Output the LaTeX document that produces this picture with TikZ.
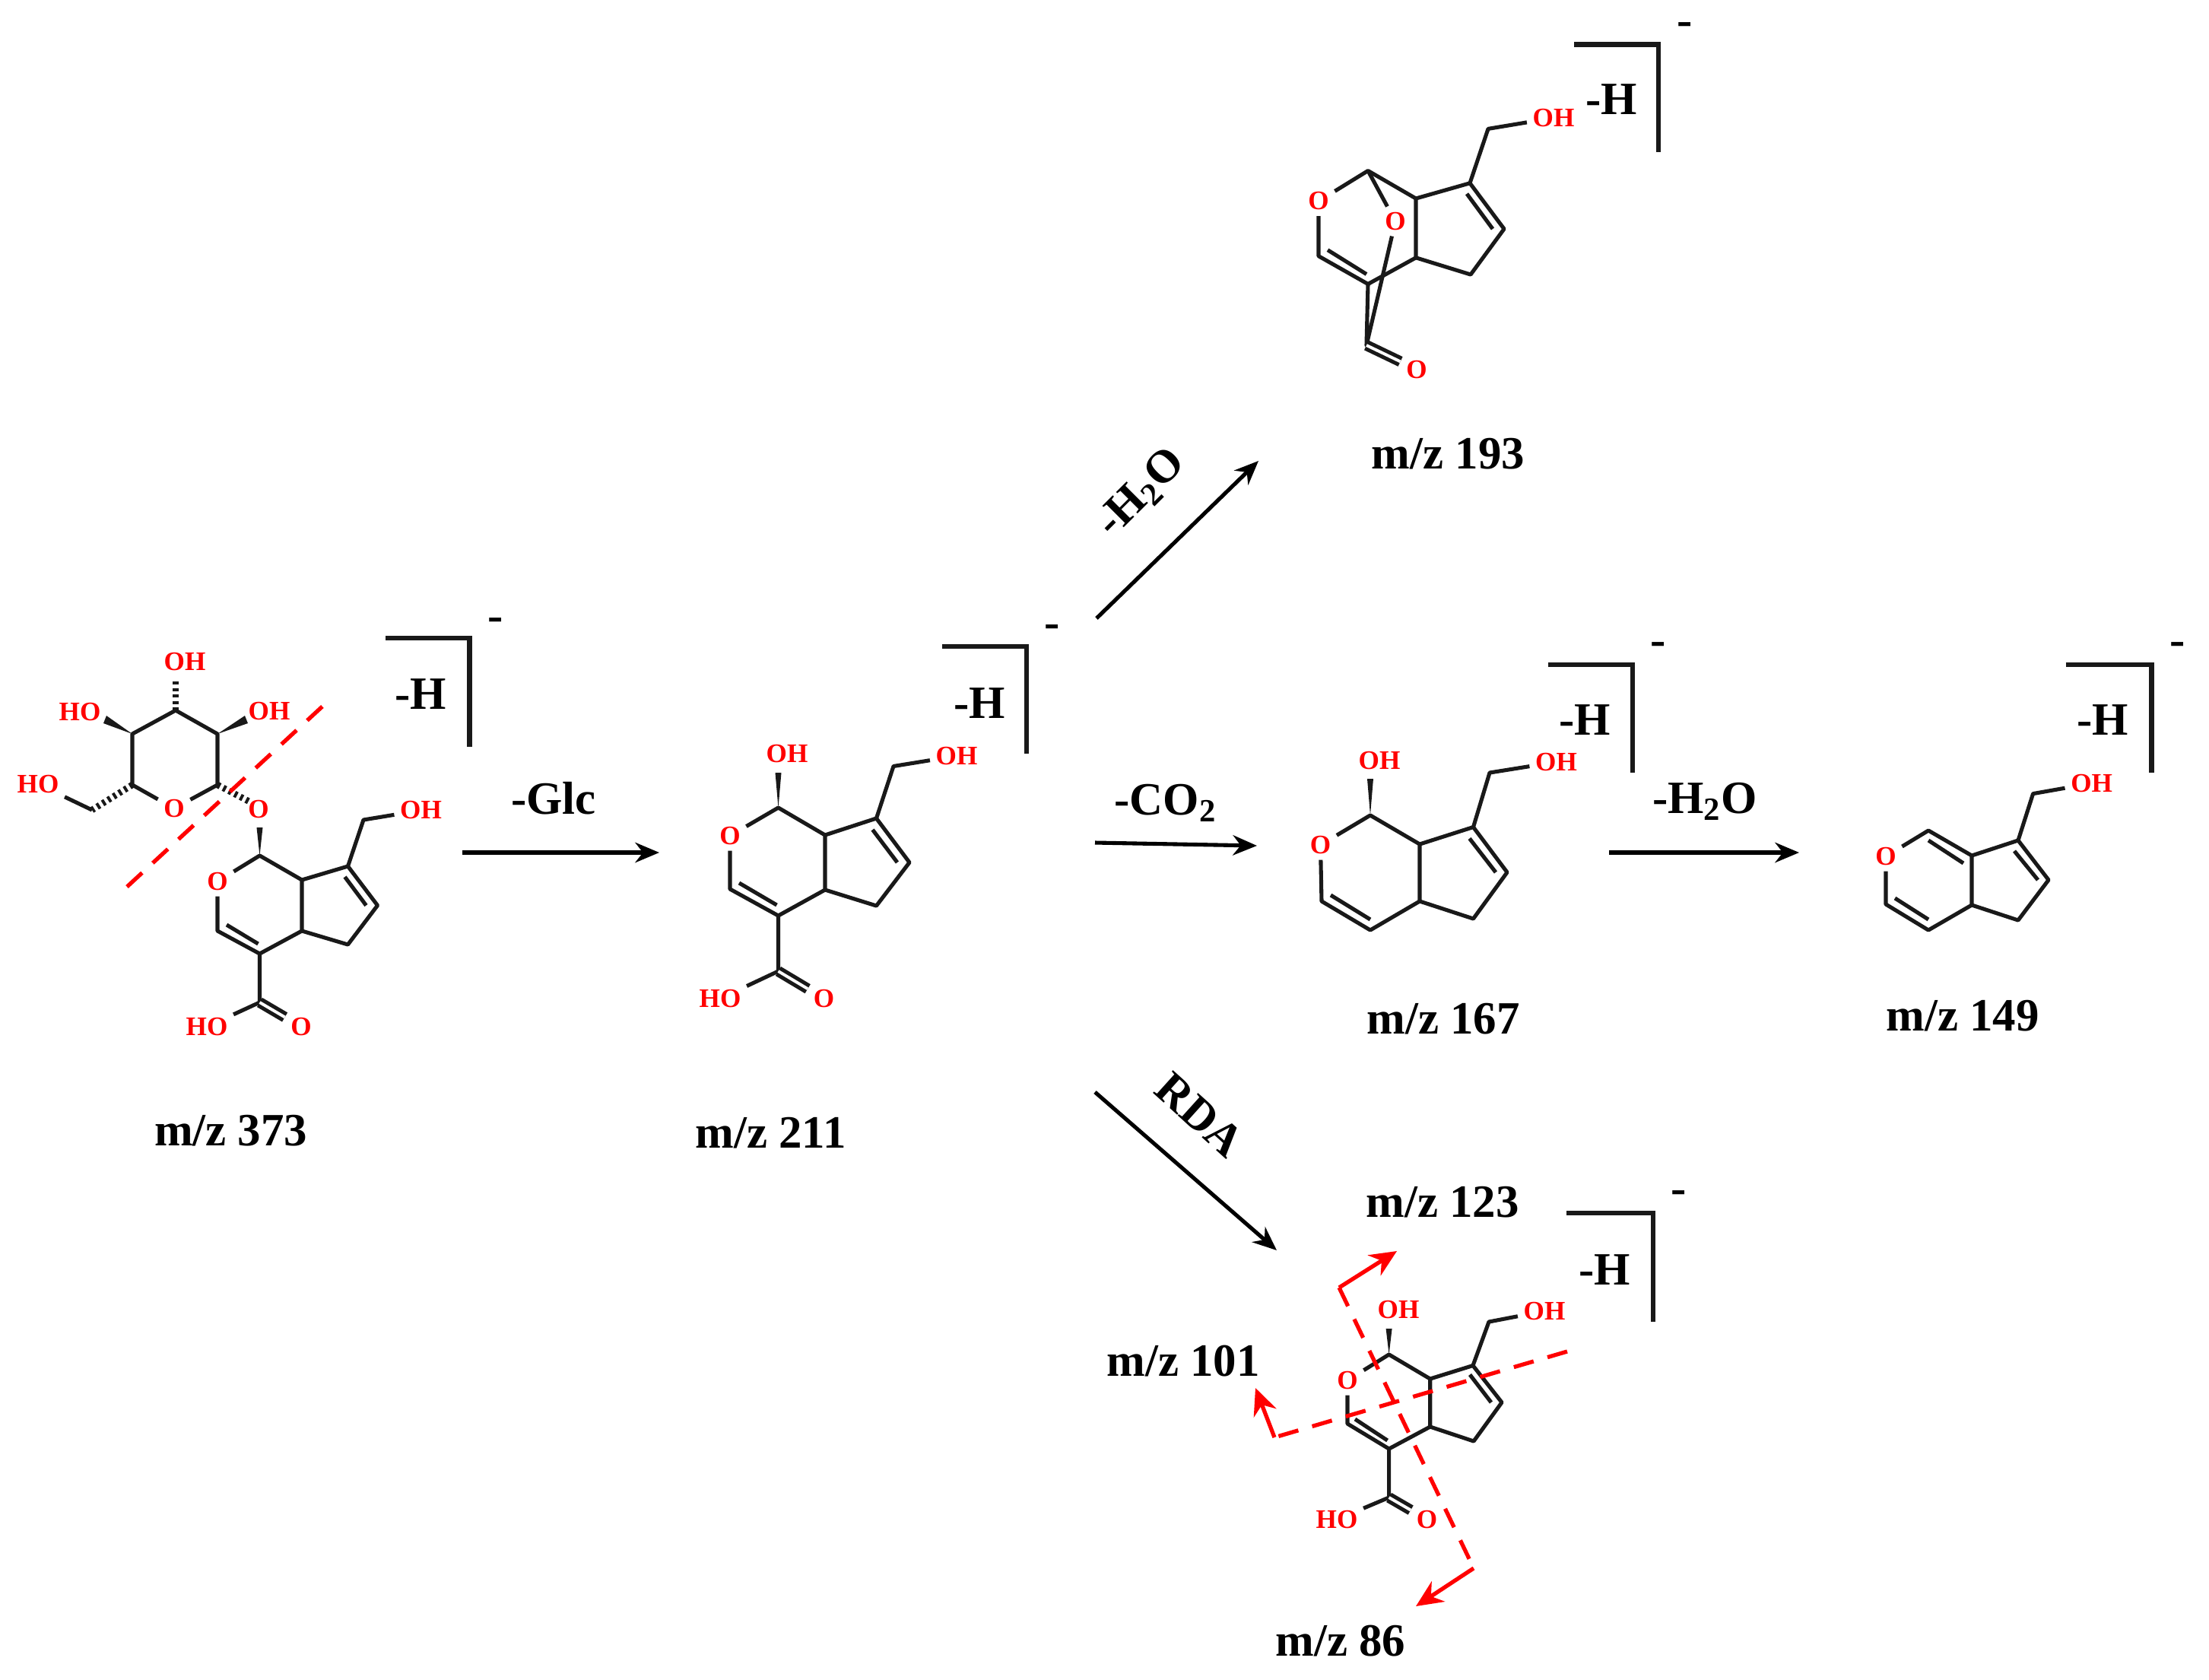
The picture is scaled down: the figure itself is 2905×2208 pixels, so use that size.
\documentclass[tikz,border=0pt]{standalone}
\usepackage{fontspec}
\usepackage{tikz}
\usetikzlibrary{arrows.meta,calc}
\setmainfont{Liberation Serif}

\begin{document}
\begin{tikzpicture}[
    x=0.01cm, y=-0.01cm,
    bond/.style={line width=1.45pt, line join=round, black!90},
    dbl/.style={bond, double, double distance=1.1pt},
    hashb/.style={line width=2.4pt, dash pattern=on 1.1pt off 1.3pt, black!90},
    atom/.style={text=red, inner sep=2pt, font=\bfseries\fontsize{10}{12}\selectfont},
    mass/.style={inner sep=0pt, font=\bfseries\fontsize{17.3}{20}\selectfont},
    brk/.style={line width=1.8pt, line join=miter, black!90},
    arrow/.style={-{Stealth[length=9pt, width=7.5pt]}, line width=1.45pt},
    cut/.style={red, line width=1.5pt, dash pattern=on 7.7pt off 5.4pt},
    cutarrow/.style={red, -{Stealth[length=10pt, width=9pt]}, line width=1.5pt}
]
\useasboundingbox (0,0) rectangle (2905,2208);

% m/z 373
\coordinate (sc1) at (231,934);
\coordinate (sc2) at (286,965);
\coordinate (sc3) at (286,1032);
\coordinate (sc4) at (174,1032);
\coordinate (sc5) at (174,965);
\coordinate (sc6) at (121,1065);
\node[atom] (so1) at (229,1063) {O};
\node[atom] (so2) at (243,870) {OH};
\coordinate (sw2) at (231,894);
\node[atom] (so3) at (105,936) {HO};
\coordinate (sw3) at (138,946);
\node[atom] (so4) at (354,935) {OH};
\coordinate (sw4) at (324,946);
\node[atom] (so5) at (50,1031) {HO};
\node[atom] (so6) at (340,1064) {O};
\coordinate (sw6) at (328,1054);
\coordinate (ac1) at (341.5,1125);
\coordinate (aw1) at (341.5,1088);
\node[atom] (ao1) at (286,1159) {O};
\coordinate (ac3) at (286,1224);
\coordinate (ac4) at (341.5,1254);
\coordinate (ac4a) at (397,1224);
\coordinate (ac7a) at (397,1157);
\coordinate (ac7) at (457.5,1139);
\coordinate (ac6) at (496.5,1190.5);
\coordinate (ac5) at (457.5,1242);
\coordinate (ac8) at (478,1078);
\node[atom] (ao8) at (553.5,1065.5) {OH};
\coordinate (ac9) at (341.5,1318);
\node[atom] (aoa) at (272,1350) {HO};
\node[atom] (aob) at (396,1350) {O};
\draw[bond] (so1) -- (sc3) -- (sc2) -- (sc1) -- (sc5) -- (sc4) -- (so1);
\draw[bond] (so5) -- (sc6);
\draw[hashb] (sc4) -- (sc6);
\draw[hashb] (sc1) -- (sw2);
\draw[hashb] (sc3) -- (sw6);
\fill[black!90] (sc5) -- ($(sw3)+(2,-5)$) -- ($(sw3)+(-2,5)$) -- cycle;
\fill[black!90] (sc2) -- ($(sw4)+(2,5)$) -- ($(sw4)+(-2,-5)$) -- cycle;
\fill[black!90] (ac1) -- ($(aw1)+(4,0)$) -- ($(aw1)+(-4,0)$) -- cycle;
\draw[bond] (ao1) -- (ac3) -- (ac4) -- (ac4a) -- (ac7a) -- (ac1) -- (ao1);
\draw[bond] (ac7a) -- (ac7) -- (ac6) -- (ac5) -- (ac4a);
\draw[bond] ($(ac3)+(12,-8)$) -- ($(ac4)+(-2,-13)$);
\draw[bond] ($(ac7)+(-4,14)$) -- ($(ac6)+(-15,0)$);
\draw[bond] (ac7) -- (ac8) -- (ao8);
\draw[bond] (ac4) -- (ac9) -- (aoa);
\draw[dbl] (ac9) -- (aob);
\draw[cut] (167,1166) coordinate (acutA) -- (426,927) coordinate (acutB);
\node[mass] (am) at (303.6,1487) {m/z 373};
\node[mass] (ah) at (553.5,913) {-H};
\node[mass] (ae) at (652,821) {-};
\coordinate (ab1) at (507,839);
\coordinate (ab2) at (617.5,982);
\draw[brk] (ab1) -| (ab2);

% m/z 211
\coordinate (bc1) at (1023.5,1062);
\coordinate (bw1) at (1023.5,1016);
\node[atom] (bo2) at (1035,991.4) {OH};
\node[atom] (bo1) at (960,1099) {O};
\coordinate (bc3) at (960,1169);
\coordinate (bc4) at (1023.5,1204);
\coordinate (bc4a) at (1085,1170);
\coordinate (bc7a) at (1085,1098);
\coordinate (bc7) at (1152.5,1076);
\coordinate (bc6) at (1196,1134);
\coordinate (bc5) at (1152.5,1191);
\coordinate (bc8) at (1175,1007.5);
\node[atom] (bo8) at (1258,994) {OH};
\coordinate (bc9) at (1023.5,1277);
\node[atom] (boa) at (947,1313) {HO};
\node[atom] (bob) at (1083.6,1313) {O};
\fill[black!90] (bc1) -- ($(bw1)+(4,0)$) -- ($(bw1)+(-4,0)$) -- cycle;
\draw[bond] (bo1) -- (bc3) -- (bc4) -- (bc4a) -- (bc7a) -- (bc1) -- (bo1);
\draw[bond] (bc7a) -- (bc7) -- (bc6) -- (bc5) -- (bc4a);
\draw[bond] ($(bc3)+(12,-8)$) -- ($(bc4)+(-2,-14)$);
\draw[bond] ($(bc7)+(-5,15)$) -- ($(bc6)+(-16,0)$);
\draw[bond] (bc7) -- (bc8) -- (bo8);
\draw[bond] (bc4) -- (bc9) -- (boa);
\draw[dbl] (bc9) -- (bob);
\node[mass] (bm) at (1013.6,1490) {m/z 211};
\node[mass] (bh) at (1288,925) {-H};
\node[mass] (be) at (1384,830) {-};
\coordinate (bb1) at (1239,850);
\coordinate (bb2) at (1350,991);
\draw[brk] (bb1) -| (bb2);

% m/z 193
\coordinate (cc1) at (1799,224.5);
\node[atom] (co1) at (1734,264.5) {O};
\coordinate (cc3) at (1734,336.7);
\coordinate (cc4) at (1799,373.5);
\coordinate (cc4a) at (1862,338.8);
\coordinate (cc7a) at (1862,261);
\coordinate (cc7) at (1933,240.8);
\coordinate (cc6) at (1978,301);
\coordinate (cc5) at (1934,361);
\coordinate (cc8) at (1957,169.4);
\node[atom] (co8) at (2043,155) {OH};
\node[atom] (co2) at (1835,291) {O};
\coordinate (cc9) at (1797,454);
\node[atom] (cob) at (1863,485.7) {O};
\draw[bond] (co1) -- (cc3) -- (cc4) -- (cc4a) -- (cc7a) -- (cc1) -- (co1);
\draw[bond] (cc7a) -- (cc7) -- (cc6) -- (cc5) -- (cc4a);
\draw[bond] ($(cc3)+(12,-8)$) -- ($(cc4)+(-2,-13)$);
\draw[bond] ($(cc7)+(-4,14)$) -- ($(cc6)+(-15,0)$);
\draw[bond] (cc7) -- (cc8) -- (co8);
\draw[bond] (cc1) -- (co2) -- (cc9) -- (cc4);
\draw[dbl] (cc9) -- (cob);
\node[mass] (cm) at (1904.5,596.7) {m/z 193};
\node[mass] (ch) at (2119,131) {-H};
\node[mass] (ce) at (2216,38) {-};
\coordinate (cb1) at (2070,58.4);
\coordinate (cb2) at (2181,200);
\draw[brk] (cb1) -| (cb2);

% m/z 167
\coordinate (dc1) at (1802,1072);
\coordinate (dw1) at (1802,1024);
\node[atom] (do2) at (1814,1000) {OH};
\node[atom] (do1) at (1736.5,1111) {O};
\coordinate (dc3) at (1738,1185);
\coordinate (dc4) at (1802,1223);
\coordinate (dc4a) at (1867,1185);
\coordinate (dc7a) at (1867,1110);
\coordinate (dc7) at (1937.5,1087.5);
\coordinate (dc6) at (1982,1147);
\coordinate (dc5) at (1937.5,1208);
\coordinate (dc8) at (1959,1016);
\node[atom] (do8) at (2046.5,1002) {OH};
\fill[black!90] (dc1) -- ($(dw1)+(4,0)$) -- ($(dw1)+(-4,0)$) -- cycle;
\draw[bond] (do1) -- (dc3) -- (dc4) -- (dc4a) -- (dc7a) -- (dc1) -- (do1);
\draw[bond] (dc7a) -- (dc7) -- (dc6) -- (dc5) -- (dc4a);
\draw[bond] ($(dc3)+(12,-8)$) -- ($(dc4)+(0,-14)$);
\draw[bond] ($(dc7)+(-5,15)$) -- ($(dc6)+(-15,0)$);
\draw[bond] (dc7) -- (dc8) -- (do8);
\node[mass] (dm) at (1898,1340) {m/z 167};
\node[mass] (dh) at (2084,947) {-H};
\node[mass] (de) at (2181,853) {-};
\coordinate (db1) at (2036,874);
\coordinate (db2) at (2147,1016);
\draw[brk] (db1) -| (db2);

% m/z 149
\coordinate (ec1) at (2536,1092);
\node[atom] (eo1) at (2480,1126) {O};
\coordinate (ec3) at (2480,1189);
\coordinate (ec4) at (2536,1223);
\coordinate (ec4a) at (2593,1190);
\coordinate (ec7a) at (2593,1125);
\coordinate (ec7) at (2654,1105);
\coordinate (ec6) at (2694,1157);
\coordinate (ec5) at (2654,1210);
\coordinate (ec8) at (2673.6,1043.6);
\node[atom] (eo8) at (2750.6,1030) {OH};
\draw[bond] (eo1) -- (ec3) -- (ec4) -- (ec4a) -- (ec7a) -- (ec1) -- (eo1);
\draw[bond] (ec7a) -- (ec7) -- (ec6) -- (ec5) -- (ec4a);
\draw[bond] ($(ec3)+(12,-8)$) -- ($(ec4)+(0,-14)$);
\draw[bond] ($(ec1)+(0,13)$) -- ($(ec7a)+(-11,10)$);
\draw[bond] ($(ec7)+(-5,14)$) -- ($(ec6)+(-14,0)$);
\draw[bond] (ec7) -- (ec8) -- (eo8);
\node[mass] (em) at (2581,1336) {m/z 149};
\node[mass] (eh) at (2765,947) {-H};
\node[mass] (ee) at (2864,853) {-};
\coordinate (eb1) at (2716.5,874);
\coordinate (eb2) at (2829.6,1016);
\draw[brk] (eb1) -| (eb2);

% m/z 123, 101, 86
\coordinate (fc1) at (1826.6,1781);
\coordinate (fw1) at (1826.6,1747);
\node[atom] (fo2) at (1839,1722) {OH};
\node[atom] (fo1) at (1772,1815) {O};
\coordinate (fc3) at (1772,1872);
\coordinate (fc4) at (1826.6,1905);
\coordinate (fc4a) at (1880.7,1876);
\coordinate (fc7a) at (1880.7,1813);
\coordinate (fc7) at (1937,1795.5);
\coordinate (fc6) at (1975,1844);
\coordinate (fc5) at (1938,1895);
\coordinate (fc8) at (1958,1738);
\node[atom] (fo8) at (2031,1724) {OH};
\coordinate (fc9) at (1826.6,1969);
\node[atom] (foa) at (1758,1998) {HO};
\node[atom] (fob) at (1876.6,1998) {O};
\fill[black!90] (fc1) -- ($(fw1)+(4,0)$) -- ($(fw1)+(-4,0)$) -- cycle;
\draw[bond] (fo1) -- (fc3) -- (fc4) -- (fc4a) -- (fc7a) -- (fc1) -- (fo1);
\draw[bond] (fc7a) -- (fc7) -- (fc6) -- (fc5) -- (fc4a);
\draw[bond] ($(fc3)+(10,-6)$) -- ($(fc4)+(-2,-11)$);
\draw[bond] ($(fc7)+(-4,12)$) -- ($(fc6)+(-14,0)$);
\draw[bond] (fc7) -- (fc8) -- (fo8);
\draw[bond] (fc4) -- (fc9) -- (foa);
\draw[dbl] (fc9) -- (fob);
\node[mass] (fma) at (1897,1581) {m/z 123};
\node[mass] (fmb) at (1556,1790) {m/z 101};
\node[mass] (fmc) at (1763,2158) {m/z 86};
\node[mass] (fh) at (2110,1669.5) {-H};
\node[mass] (fe) at (2208,1574) {-};
\coordinate (fb1) at (2060,1595);
\coordinate (fb2) at (2174,1738);
\draw[brk] (fb1) -| (fb2);
\coordinate (fp1) at (1761,1693);
\coordinate (fp2) at (1938,2062);
\coordinate (fp3) at (2061,1777);
\coordinate (fp4) at (1676,1890);
\coordinate (ft1) at (1837,1645);
\coordinate (ft2) at (1862,2112);
\coordinate (ft4) at (1651,1825);
\draw[cut] (fp1) -- (fp2);
\draw[cut] (fp3) -- (fp4);
\draw[cutarrow] (fp1) -- (ft1);
\draw[cutarrow] (fp2) -- (ft2);
\draw[cutarrow] (fp4) -- (ft4);

% reaction arrows
\coordinate (r1a) at (608,1121);
\coordinate (r1b) at (867,1121);
\coordinate (r2a) at (1442,813);
\coordinate (r2b) at (1655,606);
\coordinate (r3a) at (1440,1108);
\coordinate (r3b) at (1653,1112);
\coordinate (r4a) at (2116,1121);
\coordinate (r4b) at (2366,1121);
\coordinate (r5a) at (1440,1436);
\coordinate (r5b) at (1679,1644);
\draw[arrow] (r1a) -- (r1b);
\draw[arrow] (r2a) -- (r2b);
\draw[arrow] (r3a) -- (r3b);
\draw[arrow] (r4a) -- (r4b);
\draw[arrow] (r5a) -- (r5b);
\node[mass] (l1) at (728,1050) {-Glc};
\node[mass, rotate=45] (l2) at (1501,649) {-H\textsubscript{2}O};
\node[mass] (l3) at (1533,1056) {-CO\textsubscript{2}};
\node[mass] (l4) at (2242,1054) {-H\textsubscript{2}O};
\node[mass, rotate=-42] (l5) at (1578,1466) {RDA};
\end{tikzpicture}
\end{document}
